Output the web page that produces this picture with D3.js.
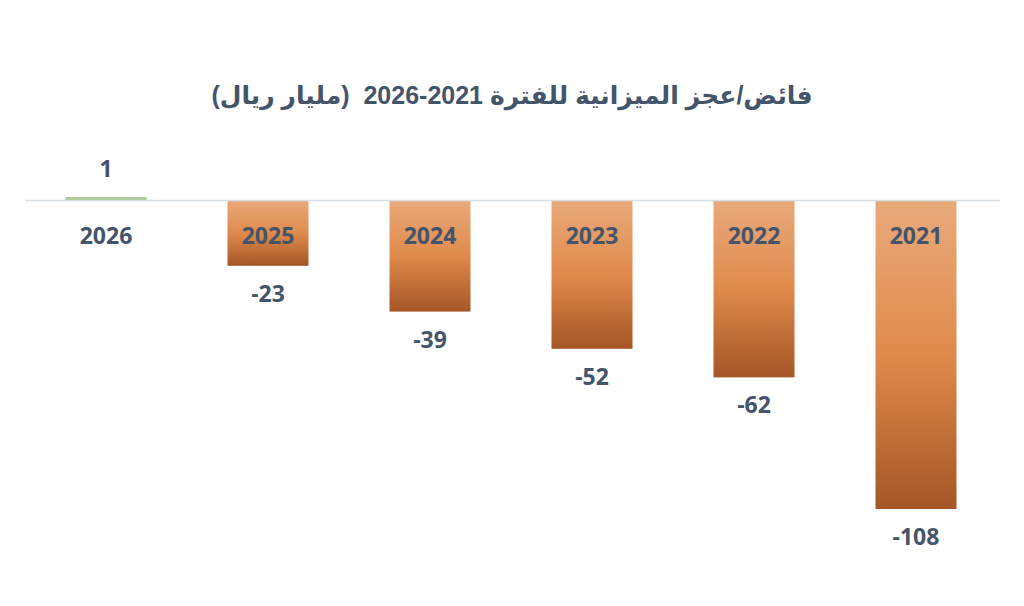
<!DOCTYPE html>
<html><head><meta charset="utf-8">
<script src="https://cdn.jsdelivr.net/npm/d3@7"></script>
<style>html,body{margin:0;padding:0;background:#fff;}</style>
</head><body>
<script>
const titleText = "فائض/عجز الميزانية للفترة 2021-2026  (مليار ريال)";
const years = ["2026", "2025", "2024", "2023", "2022", "2021"];
const balances = [1, -23, -39, -52, -62, -108];

const W = 1024, H = 606;
const svg = d3.select("body").append("svg").attr("width", W).attr("height", H);
const defs = svg.append("defs");
const g1 = defs.append("linearGradient").attr("id", "neg").attr("x1", 0).attr("y1", 0).attr("x2", 0).attr("y2", 1);
g1.append("stop").attr("offset", "0%").attr("stop-color", "#e9aa7b");
g1.append("stop").attr("offset", "50%").attr("stop-color", "#e08a4c");
g1.append("stop").attr("offset", "100%").attr("stop-color", "#a55626");

const x = d3.scaleBand().domain(years).range([25, 997]).paddingInner(0.5).paddingOuter(0.25);
const y = d3.scaleLinear().domain([-108, 0]).range([509, 200]);

svg.append("text").attr("x", 512).attr("y", 104).attr("text-anchor", "middle")
  .attr("direction", "rtl")
  .style("white-space", "pre")
  .style("font-family", "'Liberation Sans', 'DejaVu Sans', sans-serif")
  .style("font-weight", "bold").style("font-size", "25px").attr("fill", "#44546a")
  .text(titleText);

svg.selectAll("rect.bar").data(years).join("rect").attr("class", "bar")
  .attr("x", d => x(d))
  .attr("width", x.bandwidth())
  .attr("y", (d, i) => y(Math.max(0, balances[i])))
  .attr("height", (d, i) => Math.abs(y(balances[i]) - y(0)))
  .attr("fill", (d, i) => balances[i] >= 0 ? "#a9c890" : "url(#neg)");

// axis line
svg.append("g").attr("transform", `translate(0,${y(0)})`)
  .call(d3.axisBottom(x).tickSize(0).tickFormat(""))
  .call(g => g.select(".domain").attr("stroke", "#d6dee4").attr("stroke-width", 1.5).attr("d", "M25,0.5H1000"));

const font = "'Open Sans', 'Liberation Sans', sans-serif";
svg.selectAll("text.cat").data(years).join("text").attr("class", "cat")
  .attr("x", d => x(d) + x.bandwidth() / 2).attr("y", 244)
  .attr("text-anchor", "middle").style("font-family", font).style("font-weight", "bold")
  .style("font-size", "23px").attr("fill", "#44546a").text(d => d);

svg.selectAll("text.val").data(years).join("text").attr("class", "val")
  .attr("x", d => x(d) + x.bandwidth() / 2)
  .attr("y", (d, i) => balances[i] >= 0 ? y(balances[i]) - 20 : y(balances[i]) + 36)
  .attr("text-anchor", "middle").style("font-family", font).style("font-weight", "bold")
  .style("font-size", "23px").attr("fill", "#44546a").text((d, i) => balances[i]);
</script>
</body></html>
